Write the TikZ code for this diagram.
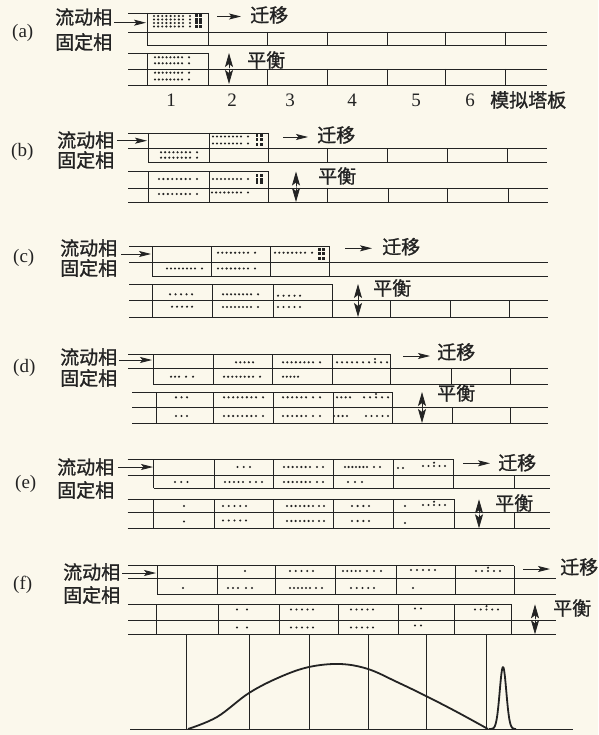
\documentclass[tikz,border=0pt]{standalone}
\usepackage{fontspec}
\setmainfont{Liberation Serif}
\newfontfamily\cjk[FakeBold=1.2]{Noto Sans CJK SC}
\usetikzlibrary{arrows.meta}
\definecolor{bgc}{RGB}{251,248,236}
\definecolor{ink}{RGB}{35,35,35}
\newcommand\mkS[2]{\fill[ink] (#1,#2) circle (1.2pt);}
\newcommand\mkR[4]{\foreach \ii in {1,...,#4}{\fill[ink] ({#1+(\ii-1)*((#2)-(#1))/(#4-1)},#3) circle (1.2pt);}}
\newcommand\mkG[4]{\mkR{#1}{#2-7}{#3}{#4}\mkS{#2}{#3}}
\newcommand\mkC[3]{\mkR{#1}{#2}{#3}{5}\fill[ink] ({(#1+#2)/2},{#3-3.3}) circle (1.2pt);}
\newcommand\mkB[4]{\foreach \jj in {1,...,#3}{\fill[ink] (#1,{#2+(\jj-1)*#4}) rectangle ++(2.8,3); \fill[ink] ({#1+4.4},{#2+(\jj-1)*#4}) rectangle ++(2.8,3);}}
\newcommand\mkH[3]{\draw[stripline] (#1,#3) -- (#2,#3);}
\newcommand\mkV[3]{\foreach \xx in {#1}{\draw[stripline] (\xx,#2) -- (\xx,#3);}}
\begin{document}
\begin{tikzpicture}[x=1pt,y=-1pt,
  stripline/.style={draw=ink,line width=0.9pt},
  cjklab/.style={font=\cjk\fontsize{19}{19}\selectfont,inner sep=0pt,anchor=west,text=ink},
  serlab/.style={font=\fontsize{19}{19}\selectfont,inner sep=0pt,anchor=west,text=ink},
  numlab/.style={font=\fontsize{19}{19}\selectfont,inner sep=0pt,text=ink},
  inarr/.style={draw=ink,line width=0.9pt,-{Stealth[length=12pt,width=6pt,inset=2.5pt]}},
  eqarr/.style={draw=ink,line width=0.8pt,{Stealth[length=14pt,width=8pt,inset=3pt]}-{Stealth[length=14pt,width=8pt,inset=3pt]}},
  curve/.style={draw=ink,line width=1.8pt,line join=round}]
\fill[bgc] (0,0) rectangle (598,735);
\useasboundingbox (0,0) rectangle (598,735);

% ---------------- (a)
\node[serlab] (a-lab) at (12,33) {(a)};
\node[cjklab] (a-m) at (55,17) {流动相};
\node[cjklab] (a-s) at (55,42) {固定相};
\coordinate (a-i1) at (114,22.7); \coordinate (a-i2) at (146,22.7);
\draw[inarr] (a-i1) -- (a-i2);
\coordinate (a-o1) at (217,16.5); \coordinate (a-o2) at (241,16.5);
\draw[inarr] (a-o1) -- (a-o2);
\node[cjklab] (a-mig) at (250,15) {迁移};
\coordinate (a-e1) at (229,53); \coordinate (a-e2) at (229,84);
\draw[eqarr] (a-e1) -- (a-e2); \fill[white] (229,68.5) circle (0.9pt);
\node[cjklab] (a-eq) at (247,60) {平衡};
\mkH{128}{208}{13}\mkH{128}{547}{32}\mkH{147}{547}{45}
\mkV{147,208}{13}{45}\mkV{267,327,387,445,505}{32}{45}
\mkH{128}{208}{53}\mkH{128}{547}{69}\mkH{128}{547}{85}
\mkV{147,208}{53}{85}\mkV{267,327,387,445,505}{69}{85}
\foreach \yy in {16,19.5,23,26.5}{\mkG{154}{190}{\yy}{8}}
\mkB{195}{14}{4}{3.6}
\foreach \yy in {57.3,63.3,72.7,79.5}{\mkG{155}{189}{\yy}{8}}
\node[numlab] (n1) at (171,100) {1};
\node[numlab] (n2) at (232,100) {2};
\node[numlab] (n3) at (290,100) {3};
\node[numlab] (n4) at (352,100) {4};
\node[numlab] (n5) at (416,100) {5};
\node[numlab] (n6) at (470,100) {6};
\node[cjklab] (nlab) at (490,100) {模拟塔板};

% ---------------- (b)
\node[serlab] (b-lab) at (11,152) {(b)};
\node[cjklab] (b-m) at (57,140) {流动相};
\node[cjklab] (b-s) at (57,160) {固定相};
\coordinate (b-i1) at (117,140.7); \coordinate (b-i2) at (147,140.7);
\draw[inarr] (b-i1) -- (b-i2);
\coordinate (b-o1) at (283,137); \coordinate (b-o2) at (308,137);
\draw[inarr] (b-o1) -- (b-o2);
\node[cjklab] (b-mig) at (317,135) {迁移};
\coordinate (b-e1) at (296,171.5); \coordinate (b-e2) at (296,202);
\draw[eqarr] (b-e1) -- (b-e2); \fill[white] (296,187) circle (0.9pt);
\node[cjklab] (b-eq) at (318,176) {平衡};
\mkH{128}{268}{133}\mkH{128}{547}{148.5}\mkH{148}{547}{162.5}
\mkV{148,209,268}{133}{162.5}\mkV{327,387,447,507}{148.5}{162.5}
\mkH{128}{268}{171.5}\mkH{128}{548}{188}\mkH{128}{548}{202.5}
\mkV{148,209,268}{171.5}{202.5}\mkV{327,388,447,508}{188}{202.5}
\mkG{161}{197}{152.3}{8}\mkG{161}{197}{157.7}{8}
\mkG{213}{248}{136.5}{8}\mkG{213}{248}{143.5}{8}
\mkB{255.5}{134}{3}{4.5}
\mkG{159}{197}{179}{8}\mkG{159}{197}{194}{8}
\mkG{213}{248}{179}{8}\mkB{255.5}{174}{3}{3.7}
\mkG{212}{248}{192.5}{8}

% ---------------- (c)
\node[serlab] (c-lab) at (13,258) {(c)};
\node[cjklab] (c-m) at (60,248) {流动相};
\node[cjklab] (c-s) at (60,268) {固定相};
\coordinate (c-i1) at (121,254); \coordinate (c-i2) at (151,254);
\draw[inarr] (c-i1) -- (c-i2);
\coordinate (c-o1) at (345,248.3); \coordinate (c-o2) at (372,248.3);
\draw[inarr] (c-o1) -- (c-o2);
\node[cjklab] (c-mig) at (382,246.7) {迁移};
\coordinate (c-e1) at (358,284); \coordinate (c-e2) at (358,317);
\draw[eqarr] (c-e1) -- (c-e2); \fill[white] (358,300.5) circle (0.9pt);
\node[cjklab] (c-eq) at (373,288) {平衡};
\mkH{129}{329}{246}\mkH{129}{548}{262.7}\mkH{152}{548}{276}
\mkV{152,211,270,329}{246}{276}
\mkH{129}{332}{284}\mkH{129}{548}{300.5}\mkH{129}{548}{317}
\mkV{152,212,273,332}{284}{317}\mkV{390,450,509}{300.5}{317}
\mkG{167}{202}{268.5}{8}
\mkG{218}{255}{252.7}{8}\mkG{218}{255}{268.5}{8}
\mkG{275}{312}{252.7}{8}\mkB{318}{247.5}{3}{4.5}
\mkR{170}{192}{294.3}{5}\mkR{172}{192}{306.7}{5}
\mkG{223}{258}{294.3}{8}\mkG{223}{258}{307}{8}
\mkR{278}{300}{295.7}{5}\mkR{278}{300}{307}{5}

% ---------------- (d)
\node[serlab] (d-lab) at (13,368) {(d)};
\node[cjklab] (d-m) at (60,357) {流动相};
\node[cjklab] (d-s) at (60,378) {固定相};
\coordinate (d-i1) at (119,360); \coordinate (d-i2) at (152,360);
\draw[inarr] (d-i1) -- (d-i2);
\coordinate (d-o1) at (403,356); \coordinate (d-o2) at (430,356);
\draw[inarr] (d-o1) -- (d-o2);
\node[cjklab] (d-mig) at (437,352) {迁移};
\coordinate (d-e1) at (422,392); \coordinate (d-e2) at (422,423);
\draw[eqarr] (d-e1) -- (d-e2); \fill[white] (422,407.5) circle (0.9pt);
\node[cjklab] (d-eq) at (437,393) {平衡};
\mkH{128}{390}{354}\mkH{128}{548}{368}\mkH{153}{548}{384}
\mkV{153,213,272,332,390}{354}{384}\mkV{451,510}{368}{384}
\mkH{132}{392}{392}\mkH{132}{548}{407}\mkH{132}{548}{423}
\mkV{156,213,273,333,392}{392}{423}\mkV{452,510}{407}{423}
\mkR{171}{179}{376.7}{3}\mkR{186}{193}{376.7}{2}
\mkR{236}{253}{362.3}{5}\mkG{224}{260}{376.7}{8}
\mkG{283}{320}{362.3}{8}\mkR{283}{298}{376.7}{5}
\mkR{337}{357}{362.3}{5}\mkC{363}{387}{362.3}
\mkR{176}{187}{397.3}{3}\mkR{176}{187}{416}{3}
\mkG{224}{263}{397.3}{8}\mkG{224}{263}{416}{8}
\mkR{283}{306}{397.3}{6}\mkR{313}{320}{397.3}{2}
\mkR{283}{306}{416}{6}\mkR{313}{320}{416}{2}
\mkR{337}{350}{397.3}{4}\mkC{364}{388}{397.3}
\mkR{334}{347}{416}{4}\mkR{366}{388}{416}{5}

% ---------------- (e)
\node[serlab] (e-lab) at (15,484) {(e)};
\node[cjklab] (e-m) at (57,467) {流动相};
\node[cjklab] (e-s) at (57,490) {固定相};
\coordinate (e-i1) at (118,467); \coordinate (e-i2) at (153,467);
\draw[inarr] (e-i1) -- (e-i2);
\coordinate (e-o1) at (463,463.3); \coordinate (e-o2) at (490,463.3);
\draw[inarr] (e-o1) -- (e-o2);
\node[cjklab] (e-mig) at (498,462.7) {迁移};
\coordinate (e-e1) at (479,499.3); \coordinate (e-e2) at (479,528.3);
\draw[eqarr] (e-e1) -- (e-e2); \fill[white] (479,514) circle (0.9pt);
\node[cjklab] (e-eq) at (495,503) {平衡};
\mkH{127.5}{453}{459}\mkH{127.5}{550}{475}\mkH{153.6}{550}{488.3}
\mkV{153.6,214,273,333,393,453}{459}{488.3}\mkV{514}{475}{488.3}
\mkH{127.5}{454}{499.3}\mkH{127.5}{550}{512.7}\mkH{127.5}{550}{528.3}
\mkV{153.6,214,273,333,393,454}{499.3}{528.3}\mkV{514}{512.7}{528.3}
\mkR{175}{187.5}{482}{3}
\mkR{237.5}{250}{467}{3}\mkR{225}{243}{482}{5}\mkR{250}{262}{482}{3}
\mkR{284}{310}{467}{7}\mkR{317}{323}{467}{2}
\mkR{284}{310}{482}{7}\mkR{317}{323}{482}{2}
\mkR{345}{367}{467}{7}\mkR{374}{380}{467}{2}\mkR{348}{362}{482}{3}
\mkR{398}{403}{468}{2}\mkC{423}{445}{466}
\mkS{184}{506}\mkS{184}{521.5}
\mkR{223}{246}{506}{5}\mkR{223}{246}{520.5}{5}
\mkR{287}{313}{506}{7}\mkR{319}{324}{506}{2}
\mkR{287}{313}{521}{7}\mkR{319}{324}{521}{2}
\mkR{352}{369}{506}{4}\mkR{352}{369}{521}{4}
\mkS{405}{506}\mkC{423}{445}{505}\mkS{405}{523}

% ---------------- (f)
\node[serlab] (f-lab) at (13,585) {(f)};
\node[cjklab] (f-m) at (63,572) {流动相};
\node[cjklab] (f-s) at (63,595) {固定相};
\coordinate (f-i1) at (122,573); \coordinate (f-i2) at (156,573);
\draw[inarr] (f-i1) -- (f-i2);
\coordinate (f-o1) at (523,569); \coordinate (f-o2) at (550,569);
\draw[inarr] (f-o1) -- (f-o2);
\node[cjklab] (f-mig) at (560,567) {迁移};
\coordinate (f-e1) at (535,604.3); \coordinate (f-e2) at (535,634.3);
\draw[eqarr] (f-e1) -- (f-e2); \fill[white] (535,619.5) circle (0.9pt);
\node[cjklab] (f-eq) at (553,608) {平衡};
\mkH{128}{514}{565.7}\mkH{128}{556}{578.3}\mkH{157}{556}{594.3}
\mkV{157,217,275,335,396,455,514}{565.7}{594.3}
\mkH{128}{511}{604.3}\mkH{128}{556}{620}\mkH{128}{556}{634.3}
\mkV{156,218,279,338,398,454,511}{604.3}{634.3}
\mkS{183}{588}
\mkS{245}{571}\mkR{228}{238}{588}{3}\mkR{246}{252}{588}{2}
\mkR{290}{313}{571}{5}\mkR{290}{310}{588}{6}\mkR{316}{322}{588}{2}
\mkR{343}{360}{571}{5}\mkR{367}{381}{571}{3}\mkR{351}{374}{588}{5}
\mkR{411}{435}{570}{5}\mkS{413}{588}
\mkC{476}{500}{571}
\mkR{237}{247}{609.5}{2}\mkR{237}{247}{627.5}{2}
\mkR{291}{313}{609.5}{5}\mkR{291}{313}{627.5}{5}
\mkR{351}{373}{609.5}{5}\mkR{351}{373}{627.5}{5}
\mkR{415}{421}{608.5}{2}\mkR{415}{421}{625.5}{2}
\mkC{475}{498}{609.5}

% ---------------- chromatogram
\mkV{186,249,309,368,426,486.5}{634.3}{729}
\mkH{130}{573}{729}
\draw[curve] plot[smooth,tension=0.6] coordinates {(188,729) (217,717) (249,693) (280,677) (309,667) (340,664) (368,669) (397,682) (426,696) (457,712) (488,729)};
\draw[curve] plot[domain=489:516,samples=70] (\x,{729-62*exp(-((\x-503)^2)/(2*3.3^2))});
\end{tikzpicture}
\end{document}
